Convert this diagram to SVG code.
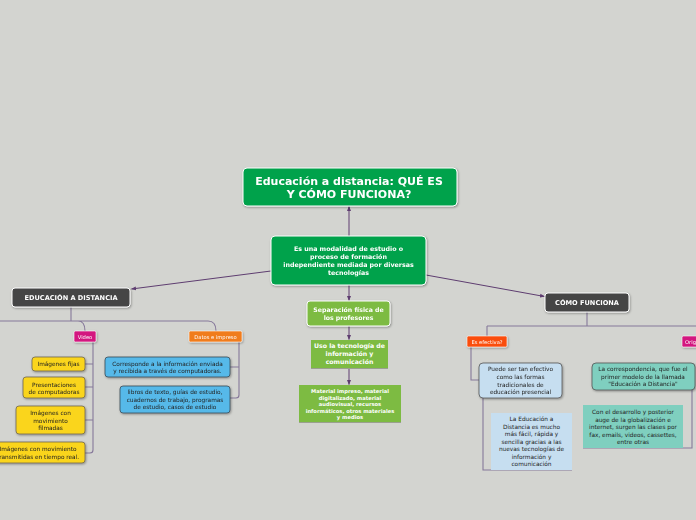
<svg xmlns="http://www.w3.org/2000/svg" width="696" height="520" viewBox="0 0 696 520">
<defs>
<filter id="sh" x="-10%" y="-20%" width="130%" height="160%"><feDropShadow dx="0.8" dy="1" stdDeviation="0.8" flood-color="#000" flood-opacity="0.35"/></filter>
<marker id="ah" viewBox="0 0 10 10" refX="9" refY="5" markerWidth="5" markerHeight="5" orient="auto"><path d="M0,1 L10,5 L0,9 z" fill="#5e3d70"/></marker>
<style>
text{font-family:"DejaVu Sans","Verdana",sans-serif;text-anchor:middle}
.w{fill:#fff;font-weight:bold}
.d{fill:#222}
.arr{stroke:#5e3d70;stroke-width:1;fill:none;marker-end:url(#ah)}
.tr{stroke:#86789a;stroke-width:1.1;fill:none}
.nd{filter:url(#sh)}
</style>
</defs>
<rect width="696" height="520" fill="#d3d4d0"/>
<g id="connectors">
<path class="arr" d="M349,236 V206.5"/>
<path class="arr" d="M271,271 L131.5,289"/>
<path class="arr" d="M426,275 L544.5,296.5"/>
<path class="arr" d="M349,285 V300.5"/>
<path class="arr" d="M349,326 V339.5"/>
<path class="arr" d="M349,368 V384.5"/>
<path class="tr" d="M71,307 V321 M0,321 H208 Q216,321 216,331 M78,321 Q85,321 85,331"/>
<path class="tr" d="M93,342 V450 Q93,453 90,453 H85 M93,364 H85 M93,387 H85 M93,420 H85"/>
<path class="tr" d="M239,342 V395 Q239,398 236,398 H230 M239,367 H230"/>
<path class="tr" d="M587,312 V326 M487,326 H696 M487,326 V336"/>
<path class="tr" d="M471,347 V380 H479 M483,398 V470 H572"/>
<path class="tr" d="M692,390 V448 H583"/>
</g>
<g id="title" class="nd"><rect x="243" y="168" width="214" height="38" rx="4" fill="#04a24c" stroke="#fff" stroke-width="1"/>
<text class="w" x="349" y="185" font-size="11">Educación a distancia: QUÉ ES</text>
<text class="w" x="349" y="198" font-size="11">Y CÓMO FUNCIONA?</text></g>
<g id="central" class="nd"><rect x="271" y="236" width="155" height="49" rx="4" fill="#04a24c" stroke="#fff" stroke-width="1"/>
<text class="w" font-size="6.3"><tspan x="348.5" y="251">Es una modalidad de estudio o</tspan><tspan x="348.5" y="259">proceso de formación</tspan><tspan x="348.5" y="267">independiente mediada por diversas</tspan><tspan x="348.5" y="275">tecnologías</tspan></text></g>
<g id="educacion" class="nd"><rect x="12" y="288" width="118" height="19" rx="3" fill="#454545" stroke="#fff" stroke-width="1"/>
<text class="w" x="71" y="300" font-size="6.6">EDUCACIÓN A DISTANCIA</text></g>
<g id="como" class="nd"><rect x="545" y="293" width="84" height="19" rx="3" fill="#454545" stroke="#fff" stroke-width="1"/>
<text class="w" x="587" y="305" font-size="6.6">CÓMO FUNCIONA</text></g>
<g id="separacion" class="nd"><rect x="307" y="301" width="83" height="25" rx="3" fill="#7dbb42" stroke="#fff" stroke-width="1"/>
<text class="w" font-size="6.2"><tspan x="348.5" y="312">Separación física de</tspan><tspan x="348.5" y="320">los profesores</tspan></text></g>
<g id="uso"><rect x="311" y="340" width="77" height="28" fill="#7dbb42"/><path d="M311,368.5 H388" stroke="#9aa08f" stroke-width="1"/>
<text class="w" font-size="6.2"><tspan x="349.5" y="348">Uso la tecnología de</tspan><tspan x="349.5" y="356">información y</tspan><tspan x="349.5" y="364">comunicación</tspan></text></g>
<g id="material"><rect x="299" y="385" width="102" height="37" fill="#7dbb42"/><path d="M299,422.5 H401" stroke="#9aa08f" stroke-width="1"/>
<text class="w" font-size="5.2"><tspan x="350" y="393">Material impreso, material</tspan><tspan x="350" y="399.5">digitalizado, material</tspan><tspan x="350" y="406">audiovisual, recursos</tspan><tspan x="350" y="412.5">informáticos, otros materiales</tspan><tspan x="350" y="419">y medios</tspan></text></g>
<g id="video" class="nd"><rect x="74" y="331" width="22" height="11" rx="1.5" fill="#d3187f" stroke="#fff" stroke-width="0.6"/>
<text x="85" y="339" font-size="5.2" fill="#fff">Video</text></g>
<g id="datos" class="nd"><rect x="189" y="331" width="53" height="11" rx="1.5" fill="#f07b1c" stroke="#fff" stroke-width="0.6"/>
<text x="215.5" y="339" font-size="5.2" fill="#fff">Datos e impreso</text></g>
<g id="fijas" class="nd"><rect x="32" y="357" width="53" height="14" rx="3" fill="#fad51e" stroke="#6e6650" stroke-width="0.8"/>
<text class="d" x="58.5" y="366" font-size="5.8">Imágenes fijas</text></g>
<g id="presentaciones" class="nd"><rect x="23" y="377" width="62" height="21" rx="3" fill="#fad51e" stroke="#6e6650" stroke-width="0.8"/>
<text class="d" font-size="5.8"><tspan x="54" y="387">Presentaciones</tspan><tspan x="54" y="394">de computadoras</tspan></text></g>
<g id="filmadas" class="nd"><rect x="16" y="406" width="69" height="28" rx="3" fill="#fad51e" stroke="#6e6650" stroke-width="0.8"/>
<text class="d" font-size="5.8"><tspan x="50.5" y="415">Imágenes con</tspan><tspan x="50.5" y="423">movimiento</tspan><tspan x="50.5" y="430">filmadas</tspan></text></g>
<g id="tiemporeal" class="nd"><rect x="-8" y="442" width="93" height="21" rx="3" fill="#fad51e" stroke="#6e6650" stroke-width="0.8"/>
<text class="d" font-size="5.8"><tspan x="38" y="451">Imágenes con movimiento</tspan><tspan x="38" y="459">transmitidas en tiempo real.</tspan></text></g>
<g id="corresponde" class="nd"><rect x="105" y="357" width="125" height="20" rx="3" fill="#56b9e9" stroke="#3a4a55" stroke-width="0.8"/>
<text class="d" font-size="5.8"><tspan x="167.5" y="366">Corresponde a la información enviada</tspan><tspan x="167.5" y="373">y recibida a través de computadoras.</tspan></text></g>
<g id="libros" class="nd"><rect x="120" y="386" width="110" height="27" rx="3" fill="#56b9e9" stroke="#3a4a55" stroke-width="0.8"/>
<text class="d" font-size="5.8"><tspan x="175" y="394">libros de texto, guías de estudio,</tspan><tspan x="175" y="401.5">cuadernos de trabajo, programas</tspan><tspan x="175" y="409">de estudio, casos de estudio</tspan></text></g>
<g id="efectiva" class="nd"><rect x="467" y="336" width="40" height="11" rx="1.5" fill="#fa4e0c" stroke="#fff" stroke-width="0.6"/>
<text x="487" y="344" font-size="5.2" fill="#fff">Es efectiva?</text></g>
<g id="orig" class="nd"><rect x="682" y="336" width="26" height="11" rx="1.5" fill="#d3187f" stroke="#fff" stroke-width="0.6"/>
<text x="685" y="344" font-size="5.2" fill="#fff" style="text-anchor:start">Orig</text></g>
<g id="puede" class="nd"><rect x="479" y="363" width="83" height="35" rx="4" fill="#c6def0" stroke="#555" stroke-width="0.8"/>
<text class="d" font-size="5.8"><tspan x="520.5" y="371">Puede ser tan efectivo</tspan><tspan x="520.5" y="379">como las formas</tspan><tspan x="520.5" y="386.5">tradicionales de</tspan><tspan x="520.5" y="394">educación presencial</tspan></text></g>
<g id="laeducacion"><rect x="491" y="413" width="81" height="57" fill="#c6def0"/>
<text class="d" font-size="5.8"><tspan x="531.5" y="421">La Educación a</tspan><tspan x="531.5" y="428.5">Distancia es mucho</tspan><tspan x="531.5" y="436">más fácil, rápida y</tspan><tspan x="531.5" y="443.5">sencilla gracias a las</tspan><tspan x="531.5" y="451">nuevas tecnologías de</tspan><tspan x="531.5" y="458.5">información y</tspan><tspan x="531.5" y="466">comunicación</tspan></text></g>
<g id="correspondencia" class="nd"><rect x="592" y="363" width="103" height="27" rx="4" fill="#7fcfbf" stroke="#555" stroke-width="0.8"/>
<text class="d" font-size="5.8"><tspan x="643" y="371">La correspondencia, que fue el</tspan><tspan x="643" y="379">primer modelo de la llamada</tspan><tspan x="643" y="386">"Educación a Distancia"</tspan></text></g>
<g id="desarrollo"><rect x="583" y="405" width="100" height="43" fill="#7fcfbf"/>
<text class="d" font-size="5.8"><tspan x="633" y="414">Con el desarrollo y posterior</tspan><tspan x="633" y="421.5">auge de la globalización e</tspan><tspan x="633" y="429">internet, surgen las clases por</tspan><tspan x="633" y="436.5">fax, emails, videos, cassettes,</tspan><tspan x="633" y="444">entre otras</tspan></text></g>
</svg>
